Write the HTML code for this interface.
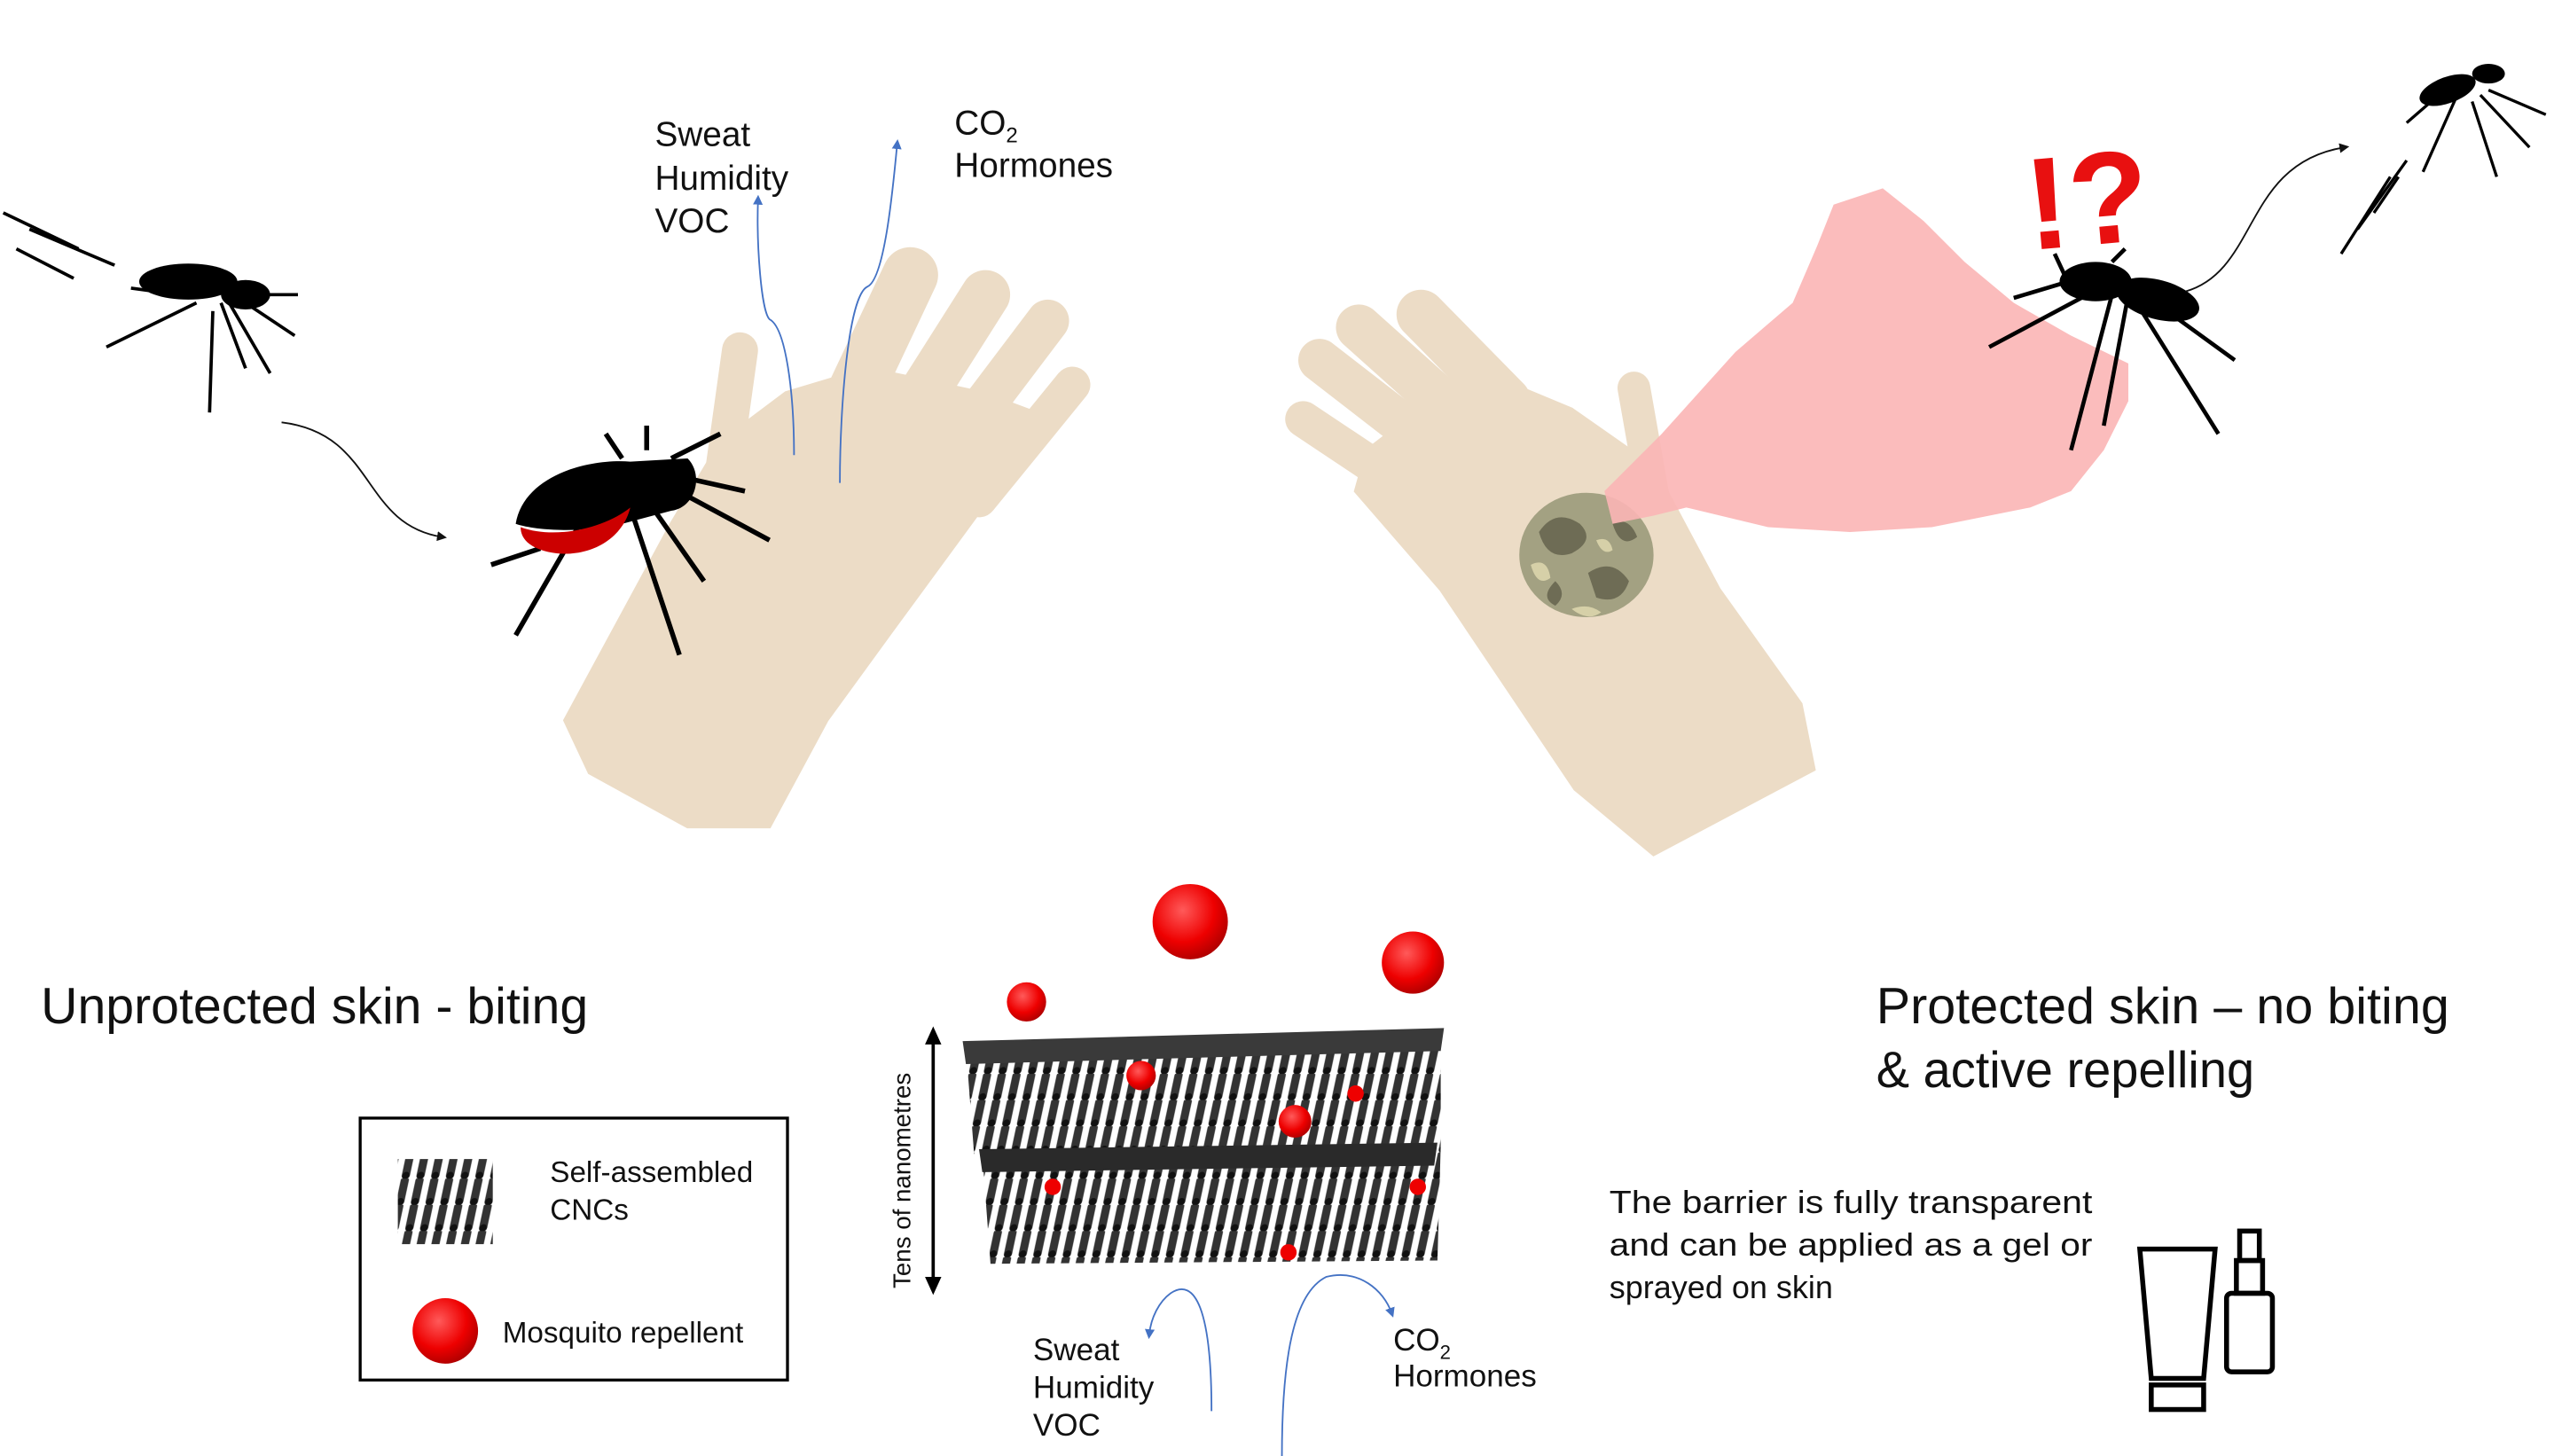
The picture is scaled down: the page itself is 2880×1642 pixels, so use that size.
<!DOCTYPE html>
<html><head><meta charset="utf-8"><style>
html,body{margin:0;padding:0;background:#fff;}
svg{display:block;}
text{font-family:"Liberation Sans",sans-serif;fill:#111;}
</style></head><body>
<svg width="2880" height="1642" viewBox="0 0 1560 889.4" xmlns="http://www.w3.org/2000/svg">
<defs>
<pattern id="rods" width="9" height="16" patternUnits="userSpaceOnUse" patternTransform="skewX(-12)">
<rect width="9" height="16" fill="#fff"/>
<line x1="4.5" y1="1" x2="4.5" y2="14" stroke="#333" stroke-width="5" stroke-linecap="round"/>
<circle cx="4.5" cy="14" r="2.2" fill="#111"/>
</pattern>
<radialGradient id="ball" cx="0.4" cy="0.35" r="0.7">
<stop offset="0" stop-color="#ff5a5a"/><stop offset="0.6" stop-color="#e00"/><stop offset="1" stop-color="#a00"/>
</radialGradient>
<marker id="ab" viewBox="0 0 10 10" refX="5" refY="5" markerWidth="6" markerHeight="6" orient="auto"><path d="M0,0L10,5L0,10z" fill="#4472c4"/></marker>
<marker id="ak" viewBox="0 0 10 10" refX="5" refY="5" markerWidth="6" markerHeight="6" orient="auto"><path d="M0,0L10,5L0,10z" fill="#111"/></marker>
</defs>

<!-- left hand -->
<g fill="#ecdcc6" stroke="#ecdcc6" stroke-linecap="round">
<path d="M345,440 L410,320 L440,270 L480,240 L530,225 L600,240 L640,255 L600,310 L545,385 L505,440 L470,505 L420,505 L360,472 Z" stroke-width="2"/>
<line x1="515" y1="255" x2="556" y2="168" stroke-width="34"/>
<line x1="550" y1="262" x2="602" y2="180" stroke-width="30"/>
<line x1="575" y1="282" x2="640" y2="196" stroke-width="26"/>
<line x1="598" y1="305" x2="655" y2="235" stroke-width="22"/>
<line x1="440" y1="300" x2="452" y2="214" stroke-width="22"/>
</g>
<!-- right hand -->
<g fill="#ecdcc6" stroke="#ecdcc6" stroke-linecap="round">
<path d="M835,275 L900,225 L960,250 L1010,285 L1050,360 L1100,430 L1108,470 L1010,522 L962,482 L880,360 L828,300 Z" stroke-width="2"/>
<line x1="850" y1="292" x2="796" y2="256" stroke-width="22"/>
<line x1="868" y1="268" x2="806" y2="220" stroke-width="26"/>
<line x1="888" y1="252" x2="830" y2="200" stroke-width="28"/>
<line x1="920" y1="245" x2="868" y2="192" stroke-width="30"/>
<line x1="1010" y1="305" x2="998" y2="237" stroke-width="20"/>
</g>
<!-- camo patch -->
<ellipse cx="969" cy="339" rx="41" ry="38" fill="#a3a182"/>
<path d="M940,325 q10,-15 25,-5 q10,10 -5,18 q-15,5 -20,-13z M970,350 q15,-10 25,5 q-5,15 -20,10z M950,355 q8,8 0,15 q-10,-5 0,-15z M985,320 q10,-5 15,8 q-10,8 -15,-8z" fill="#6e6c55"/>
<path d="M935,345 q10,-5 12,8 q-8,6 -12,-8z M975,330 q8,-3 10,6 q-6,4 -10,-6z M960,372 q10,-4 18,2 q-8,6 -18,-2z" fill="#d6d0a8"/>
<!-- pink spray -->
<path d="M980,300 L1015,265 L1060,215 L1095,185 L1110,150 L1120,125 L1150,115 L1175,135 L1200,160 L1230,185 L1265,205 L1300,222 L1300,245 L1285,275 L1265,300 L1240,310 L1180,322 L1130,325 L1080,322 L1030,310 L1010,315 L985,320 Z" fill="#fbb5b5" opacity="0.9"/>

<!-- !? -->
<text x="1236" y="150" font-size="80" font-weight="bold" style="fill:#e81010" transform="rotate(-5 1270 110)">!?</text>

<!-- mosquito 1 -->
<g stroke="#000" stroke-width="2" fill="none">
<line x1="2" y1="130" x2="48" y2="152"/><line x1="18" y1="140" x2="70" y2="162"/><line x1="10" y1="152" x2="45" y2="170"/>
<path d="M130,190 L128,252 M135,185 L150,225 M140,185 L165,228 M120,185 L65,212 M148,180 L182,180 M150,185 L180,205 M95,178 L80,176"/>
</g>
<ellipse cx="115" cy="172" rx="30" ry="11" fill="#000"/><ellipse cx="150" cy="180" rx="15" ry="9" fill="#000"/>
<path d="M172,258 C230,265 220,320 270,328" stroke="#111" fill="none" stroke-width="1" marker-end="url(#ak)"/>

<!-- mosquito 2 -->
<g stroke="#000" stroke-width="3" fill="none">
<path d="M360,310 L315,388 M385,310 L415,400 M395,305 L430,355 M405,295 L470,330 M410,290 L455,300 M410,280 L440,265 M330,335 L300,345 M380,280 L370,265 M395,275 L395,260"/>
</g>
<path d="M315,320 C320,290 360,280 385,282 L420,280 C430,290 425,310 410,312 L380,320 C360,325 330,325 315,320 Z" fill="#000"/>
<path d="M318,322 C340,330 370,322 385,310 C380,330 360,340 340,338 C325,336 318,330 318,322 Z" fill="#c00"/>

<!-- mosquito 3 -->
<g stroke="#000" stroke-width="2.5" fill="none">
<path d="M1290,180 L1265,275 M1300,180 L1285,260 M1305,185 L1355,265 M1310,180 L1365,220 M1275,180 L1215,212 M1270,170 L1230,182 M1255,155 L1262,170 M1290,160 L1298,152"/>
</g>
<ellipse cx="1280" cy="172" rx="22" ry="12" fill="#000"/><ellipse cx="1318" cy="183" rx="26" ry="12" fill="#000" transform="rotate(15 1318 183)"/>
<path d="M1335,178 C1380,165 1370,100 1432,90" stroke="#111" fill="none" stroke-width="1" marker-end="url(#ak)"/>
<!-- mosquito 4 -->
<g stroke="#000" stroke-width="1.8" fill="none">
<line x1="1430" y1="155" x2="1460" y2="108"/><line x1="1440" y1="140" x2="1470" y2="98"/><line x1="1450" y1="130" x2="1465" y2="108"/>
<path d="M1500,60 L1480,105 M1510,62 L1525,108 M1515,58 L1545,90 M1520,55 L1555,70 M1485,62 L1470,75"/>
</g>
<ellipse cx="1495" cy="55" rx="18" ry="8" fill="#000" transform="rotate(-20 1495 55)"/><ellipse cx="1520" cy="45" rx="10" ry="6" fill="#000"/>

<!-- top arrows & labels -->
<path d="M485,278 C485,240 480,200 470,195 C465,190 462,150 463,122" stroke="#4472c4" fill="none" stroke-width="1" marker-end="url(#ab)"/>
<path d="M513,295 C513,250 518,180 530,175 C540,170 545,120 548,88" stroke="#4472c4" fill="none" stroke-width="1" marker-end="url(#ab)"/>
<text font-size="21"><tspan x="400" y="89">Sweat</tspan><tspan x="400" y="116">Humidity</tspan><tspan x="400" y="142">VOC</tspan></text>
<text font-size="21" x="583" y="82">CO<tspan font-size="13" dy="5">2</tspan></text>
<text font-size="21" x="583" y="108">Hormones</text>

<!-- titles -->
<text font-size="31" x="25" y="625">Unprotected skin - biting</text>
<text font-size="31" x="1146" y="625" textLength="350" lengthAdjust="spacingAndGlyphs">Protected skin – no biting</text>
<text font-size="31" x="1146" y="664" textLength="231" lengthAdjust="spacingAndGlyphs">&amp; active repelling</text>

<!-- legend -->
<rect x="220" y="683" width="261" height="160" fill="none" stroke="#000" stroke-width="1.8"/>
<rect x="243" y="708" width="58" height="52" fill="url(#rods)"/>
<text font-size="18"><tspan x="336" y="722">Self-assembled</tspan><tspan x="336" y="745">CNCs</tspan></text>
<circle cx="272" cy="813" r="20" fill="url(#ball)"/>
<text font-size="18" x="307" y="820">Mosquito repellent</text>

<!-- CNC stack -->
<path d="M590,640 L880,630 L880,700 L595,705 Z" fill="url(#rods)"/>
<path d="M600,705 L880,700 L878,770 L605,772 Z" fill="url(#rods)"/>
<path d="M588,636 L882,628 L880,642 L590,650 Z" fill="#3a3a3a"/>
<path d="M598,702 L878,698 L876,712 L600,716 Z" fill="#2a2a2a"/>
<circle cx="697" cy="657" r="9" fill="url(#ball)"/>
<circle cx="791" cy="685" r="10" fill="url(#ball)"/>
<circle cx="828" cy="668" r="5" fill="#e00"/><circle cx="643" cy="725" r="5" fill="#e00"/><circle cx="866" cy="725" r="5" fill="#e00"/><circle cx="787" cy="765" r="5" fill="#e00"/>
<circle cx="727" cy="563" r="23" fill="url(#ball)"/>
<circle cx="863" cy="588" r="19" fill="url(#ball)"/>
<circle cx="627" cy="612" r="12" fill="url(#ball)"/>
<line x1="570" y1="636" x2="570" y2="782" stroke="#000" stroke-width="2"/>
<path d="M565,638 L570,627 L575,638 Z M565,780 L570,791 L575,780 Z" fill="#000"/>
<text font-size="15" transform="translate(556,787) rotate(-90)">Tens of nanometres</text>

<!-- bottom arrows & labels -->
<path d="M740,862 C740,800 730,780 715,790 C708,795 703,805 702,815" stroke="#4472c4" fill="none" stroke-width="1" marker-end="url(#ab)"/>
<path d="M783,890 C783,830 790,790 810,780 C830,775 845,788 850,802" stroke="#4472c4" fill="none" stroke-width="1" marker-end="url(#ab)"/>
<text font-size="19"><tspan x="631" y="831">Sweat</tspan><tspan x="631" y="854">Humidity</tspan><tspan x="631" y="877">VOC</tspan></text>
<text font-size="19" x="851" y="825">CO<tspan font-size="12" dy="5">2</tspan></text>
<text font-size="19" x="851" y="847">Hormones</text>

<!-- description -->
<text font-size="19.5"><tspan x="983" y="741" textLength="295" lengthAdjust="spacingAndGlyphs">The barrier is fully transparent</tspan><tspan x="983" y="767" textLength="295" lengthAdjust="spacingAndGlyphs">and can be applied as a gel or</tspan><tspan x="983" y="793">sprayed on skin</tspan></text>

<!-- icons -->
<g stroke="#000" stroke-width="3" fill="none">
<path d="M1307,763 L1353,763 L1346,842 L1314,842 Z"/>
<rect x="1314" y="846" width="32" height="15"/>
<rect x="1360" y="790" width="28" height="48" rx="3"/>
<rect x="1366" y="770" width="16" height="20"/>
<rect x="1368" y="752" width="12" height="18"/>
</g>
</svg>
</body></html>
